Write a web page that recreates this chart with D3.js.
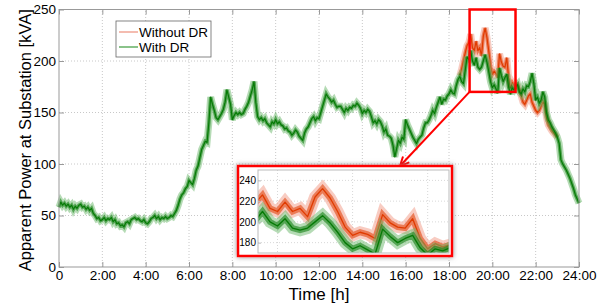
<!DOCTYPE html>
<html>
<head>
<meta charset="utf-8">
<script src="https://cdn.jsdelivr.net/npm/d3@7"></script>
<style>
  body { margin: 0; background: #fff; }
  svg { font-family: "Liberation Sans", Arial, sans-serif; }
  .tick text { fill: #000; }
</style>
</head>
<body>
<svg id="chart" width="613" height="308"></svg>
<script>
// apparent power at substation, 5-minute samples from 0:00 to 24:00
var withDR = [
  58, 63, 60, 62, 59, 61, 58, 60, 56, 59, 57, 60,
  61, 58, 59, 56, 58, 55, 57, 52, 50, 47, 48, 45,
  46, 48, 45, 47, 46, 48, 44, 46, 42, 43, 40, 41,
  39, 43, 44, 42, 46, 47, 48, 46, 47, 45, 44, 46,
  43, 42, 44, 47, 48, 50, 47, 49, 46, 48, 47, 49,
  47, 48, 50, 49, 52, 55, 60, 66, 70, 72, 76, 78,
  84, 82, 80, 86, 94, 98, 106, 114, 118, 122, 121, 140,
  165, 158, 152, 145, 143, 146, 149, 153, 160, 172, 165, 158,
  143, 147, 150, 148, 150, 148, 149, 153, 156, 160, 166, 172,
  180, 160, 146, 143, 145, 142, 144, 140, 138, 136, 141, 139,
  143, 139, 141, 138, 137, 134, 135, 132, 131, 128, 130, 133,
  131, 127, 125, 123, 130, 134, 136, 140, 144, 146, 142, 145,
  144, 150, 156, 162, 168, 165, 163, 160, 162, 158, 155, 156,
  156, 153, 150, 154, 152, 155, 154, 157, 156, 159, 157, 154,
  149, 152, 150, 153, 151, 146, 140, 142, 139, 143, 141, 137,
  131, 134, 128, 127, 125, 118, 107, 115, 123, 120, 126, 124,
  143, 138, 134, 130, 126, 123, 120, 124, 126, 128, 135, 140,
  140, 143, 147, 152, 149, 155, 160, 165, 158, 163, 162, 166,
  168, 172, 169, 168, 176, 182, 185, 180, 178, 191, 204, 201,
  210, 200, 196, 203, 194, 192, 194, 200, 206, 199, 190, 180,
  174, 177, 173, 169, 193, 186, 180, 184, 187, 175, 168, 174,
  172, 175, 177, 170, 168, 173, 170, 176, 175, 180, 188, 178,
  162, 165, 159, 162, 170, 165, 150, 143, 140, 136, 133, 130,
  126, 120, 104, 100, 97, 94, 90, 86, 81, 76, 70, 66,
  62
];
var withDRStart = 0;

// without DR only differs in the evening, 5-minute samples from 18:30 to 23:00
var withoutDR = [
  186, 192, 200, 208, 215, 218,
  226, 213, 210, 219, 210, 213, 205, 224, 232, 223, 210, 195,
  187, 190, 188, 184, 207, 199, 195, 194, 203, 184, 174, 179,
  176, 178, 176, 172, 166, 160, 158, 162, 166, 168, 160, 156,
  152, 150, 152, 156, 160, 158, 145, 138, 135, 132, 130, 128,
  126
];
var withoutDRStart = 18.5;
var stepHours = 5 / 60;

var xTicks = [0, 2, 4, 6, 8, 10, 12, 14, 16, 18, 20, 22, 24];
var xTickLabels = ["0", "2:00", "4:00", "6:00", "8:00", "10:00", "12:00", "14:00", "16:00", "18:00", "20:00", "22:00", "24:00"];
var yTicks = [0, 50, 100, 150, 200, 250];

// zoom window (hours / kVA) and its ticks
var zoomX = [18.95, 21.07];
var zoomY = [170, 250];
var insetYTicks = [180, 200, 220, 240];
var insetXTicks = [1150 / 60, 1200 / 60, 1250 / 60];

function toPoints(values, start) {
  return values.map((v, i) => ({h: start + i * stepHours, v: v}));
}
var greenPts = toPoints(withDR, withDRStart);
var redPts = toPoints(withoutDR, withoutDRStart);

var svg = d3.select("#chart");

var defs = svg.append("defs");
var shadow = defs.append("filter").attr("id", "shadow")
    .attr("x", "-10%").attr("y", "-10%").attr("width", "120%").attr("height", "120%");
shadow.append("feDropShadow").attr("dx", 0).attr("dy", 0)
    .attr("stdDeviation", 2.5).attr("flood-color", "#777").attr("flood-opacity", 0.8);

var x = d3.scaleLinear().domain([0, 24]).range([59, 579]),
    y = d3.scaleLinear().domain([0, 250]).range([267, 9.5]);

var plot = svg.append("g");

// dotted grid
plot.selectAll(".vgrid").data(xTicks.slice(1, -1)).enter().append("line")
    .attr("x1", d => x(d)).attr("x2", d => x(d))
    .attr("y1", y(0)).attr("y2", y(250))
    .attr("stroke", "#c8c8c8").attr("stroke-dasharray", "1,2");
plot.selectAll(".hgrid").data(yTicks.slice(1, -1)).enter().append("line")
    .attr("x1", x(0)).attr("x2", x(24))
    .attr("y1", d => y(d)).attr("y2", d => y(d))
    .attr("stroke", "#c8c8c8").attr("stroke-dasharray", "1,2");

// each series: a wide pale band plus a mid band and a dark core, like the dense raw trace
function drawSeries(g, pts, xs, ys, core, halo, coreW, haloW) {
  var line = d3.line().x(d => xs(d.h)).y(d => ys(d.v));
  g.append("path").datum(pts).attr("d", line)
      .attr("fill", "none").attr("stroke", halo).attr("stroke-width", haloW)
      .attr("stroke-opacity", 0.5).attr("stroke-linejoin", "miter").attr("stroke-miterlimit", 3);
  g.append("path").datum(pts).attr("d", line)
      .attr("fill", "none").attr("stroke", core).attr("stroke-width", haloW * 0.5)
      .attr("stroke-opacity", 0.55).attr("stroke-linejoin", "miter").attr("stroke-miterlimit", 3);
  g.append("path").datum(pts).attr("d", line)
      .attr("fill", "none").attr("stroke", core).attr("stroke-width", coreW)
      .attr("stroke-linejoin", "round");
}

drawSeries(plot, redPts, x, y, "#e03a00", "#f29a86", 1.2, 7);
drawSeries(plot, greenPts, x, y, "#067a06", "#6cb86c", 1.2, 7);

// axes box with inward ticks
var axisColor = "#999";
var xAxis = plot.append("g").attr("transform", "translate(0," + y(0) + ")")
    .call(d3.axisBottom(x).tickValues(xTicks).tickFormat((d, i) => xTickLabels[i])
        .tickSizeInner(-5).tickSizeOuter(0).tickPadding(3));
var xTop = plot.append("g").attr("transform", "translate(0," + y(250) + ")")
    .call(d3.axisTop(x).tickValues(xTicks).tickFormat("").tickSizeInner(-5).tickSizeOuter(0));
var yAxis = plot.append("g").attr("transform", "translate(" + x(0) + ",0)")
    .call(d3.axisLeft(y).tickValues(yTicks).tickSizeInner(-5).tickSizeOuter(0).tickPadding(3));
var yRight = plot.append("g").attr("transform", "translate(" + x(24) + ",0)")
    .call(d3.axisRight(y).tickValues(yTicks).tickFormat("").tickSizeInner(-5).tickSizeOuter(0));

[xAxis, xTop, yAxis, yRight].forEach(a => {
  a.select(".domain").remove();
  a.selectAll("line").attr("stroke", axisColor);
  a.selectAll("text").style("font-size", "13.5px").style("font-family", "Liberation Sans, Arial, sans-serif");
});

plot.append("rect")
    .attr("x", x(0)).attr("y", y(250))
    .attr("width", x(24) - x(0)).attr("height", y(0) - y(250))
    .attr("fill", "none").attr("stroke", axisColor).attr("stroke-width", 1);

// axis labels
svg.append("text")
    .attr("x", (x(0) + x(24)) / 2).attr("y", 300)
    .attr("text-anchor", "middle").style("font-size", "17px")
    .text("Time [h]");
svg.append("text")
    .attr("transform", "translate(31," + (y(125) + 2) + ") rotate(-90)")
    .attr("text-anchor", "middle").style("font-size", "16.5px")
    .text("Apparent Power at Substation [kVA]");

// legend
var legend = svg.append("g").attr("transform", "translate(116,21)");
legend.append("rect").attr("width", 95).attr("height", 36)
    .attr("fill", "#fff").attr("stroke", "#666").attr("stroke-width", 0.8);
legend.append("line").attr("x1", 3).attr("x2", 22).attr("y1", 11).attr("y2", 11)
    .attr("stroke", "#f4bcb0").attr("stroke-width", 2);
legend.append("line").attr("x1", 3).attr("x2", 22).attr("y1", 26).attr("y2", 26)
    .attr("stroke", "#3c9a3c").attr("stroke-width", 1.2);
legend.append("text").attr("x", 23).attr("y", 16).style("font-size", "13.5px").text("Without DR");
legend.append("text").attr("x", 23).attr("y", 31).style("font-size", "13.5px").text("With DR");

// zoom rectangle in the main plot
svg.append("rect")
    .attr("x", x(zoomX[0])).attr("y", y(zoomY[1]))
    .attr("width", x(zoomX[1]) - x(zoomX[0])).attr("height", y(zoomY[0]) - y(zoomY[1]))
    .attr("fill", "none").attr("stroke", "#ff0000").attr("stroke-width", 2.5);

// arrow from the zoom rectangle to the inset
var arrowFrom = [x(zoomX[0]), y(zoomY[0])], arrowTo = [400, 166];
svg.append("line")
    .attr("x1", arrowFrom[0]).attr("y1", arrowFrom[1])
    .attr("x2", arrowTo[0]).attr("y2", arrowTo[1])
    .attr("stroke", "#ff0000").attr("stroke-width", 2);
var ang = Math.atan2(arrowTo[1] - arrowFrom[1], arrowTo[0] - arrowFrom[0]);
var hl = 10, spread = 0.45;
svg.append("path")
    .attr("d", "M" + (arrowTo[0] - hl * Math.cos(ang - spread)) + "," + (arrowTo[1] - hl * Math.sin(ang - spread)) +
               "L" + arrowTo[0] + "," + arrowTo[1] +
               "L" + (arrowTo[0] - hl * Math.cos(ang + spread)) + "," + (arrowTo[1] - hl * Math.sin(ang + spread)))
    .attr("fill", "none").attr("stroke", "#ff0000").attr("stroke-width", 2);

// inset
svg.append("rect")
    .attr("x", 238).attr("y", 166).attr("width", 214).attr("height", 90)
    .attr("fill", "#fff").attr("stroke", "#ff0000").attr("stroke-width", 2.5)
    .attr("filter", "url(#shadow)");

var ix = d3.scaleLinear().domain(zoomX).range([258, 449]),
    iy = d3.scaleLinear().domain(zoomY).range([253, 170]);

var inset = svg.append("g");
inset.append("clipPath").attr("id", "insetClip")
    .append("rect").attr("x", 258).attr("y", 170).attr("width", 191).attr("height", 83);

inset.selectAll(".ivgrid").data(insetXTicks).enter().append("line")
    .attr("x1", d => ix(d)).attr("x2", d => ix(d)).attr("y1", 170).attr("y2", 253)
    .attr("stroke", "#d8d8d8").attr("stroke-dasharray", "1,2");
inset.selectAll(".ihgrid").data(insetYTicks).enter().append("line")
    .attr("x1", 258).attr("x2", 449).attr("y1", d => iy(d)).attr("y2", d => iy(d))
    .attr("stroke", "#d8d8d8").attr("stroke-dasharray", "1,2");

var insetLines = inset.append("g").attr("clip-path", "url(#insetClip)");
var inWindow = p => p.h >= zoomX[0] - 0.1 && p.h <= zoomX[1] + 0.1;
drawSeries(insetLines, redPts.filter(inWindow), ix, iy, "#e03a00", "#f29a86", 1.3, 12);
drawSeries(insetLines, greenPts.filter(inWindow), ix, iy, "#067a06", "#6cb86c", 1.3, 12);

inset.append("rect").attr("x", 258).attr("y", 170).attr("width", 191).attr("height", 83)
    .attr("fill", "none").attr("stroke", "#bbb").attr("stroke-width", 1);

var iyAxis = inset.append("g").attr("transform", "translate(258,0)")
    .call(d3.axisLeft(iy).tickValues(insetYTicks).tickSizeInner(-3).tickSizeOuter(0).tickPadding(2));
iyAxis.select(".domain").remove();
iyAxis.selectAll("line").attr("stroke", "#bbb");
iyAxis.selectAll("text").style("font-size", "10px").style("font-family", "Liberation Sans, Arial, sans-serif");
</script>
</body>
</html>
